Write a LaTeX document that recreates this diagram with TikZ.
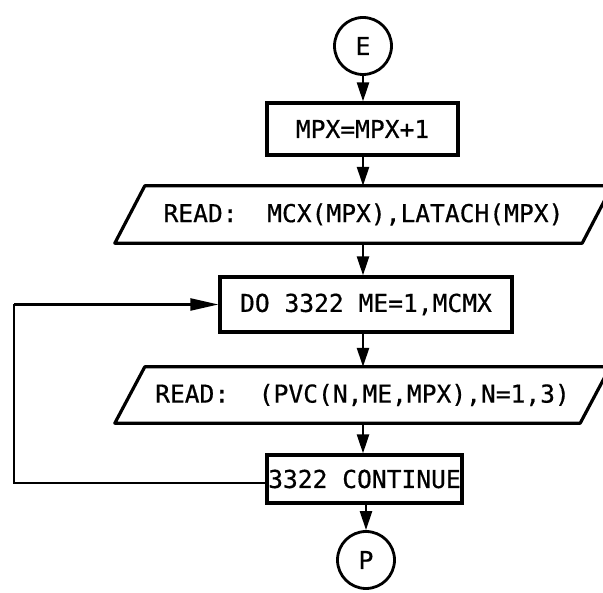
\documentclass[tikz,border=0pt]{standalone}
\usepackage{fontspec}
\newfontfamily\chartfont[FakeBold=0.6]{DejaVu Sans Mono}
\usetikzlibrary{arrows.meta}

\begin{document}
\begin{tikzpicture}[x=1pt,y=1pt,
  chartlabel/.style={font=\chartfont\fontsize{24.6}{28}\selectfont},
  procbox/.style={chartlabel,draw=black,line width=3.2pt,inner sep=1pt},
  iotext/.style={chartlabel,inner sep=0pt},
  iobox/.style={draw=black,line width=3.2pt,line join=round},
  conncirc/.style={chartlabel,circle,draw=black,line width=2.8pt,minimum size=57pt,inner sep=0pt},
  arr/.style={draw=black,line width=2.5pt,-{Triangle[length=19pt,width=12pt]}},
  loopline/.style={draw=black,line width=2.3pt}]
\useasboundingbox (0,0) rectangle (603,593);
\coordinate (spine) at (363,0);
\coordinate (lpcorner) at (14,0);
\node[conncirc] (E) at (363,547) {E};
\node[procbox,minimum width=191pt,minimum height=52pt] (incr) at (362.5,464) {MPX=MPX+1};
\node[iotext,minimum width=467pt,minimum height=57pt] (rdone) at (363.5,378.5) {READ:\ \ MCX(MPX),LATACH(MPX)};
\draw[iobox] ([xshift=-15pt]rdone.south west) -- ([xshift=15pt]rdone.north west) -- ([xshift=15pt]rdone.north east) -- ([xshift=-15pt]rdone.south east) -- cycle;
\node[procbox,minimum width=292pt,minimum height=55pt] (doloop) at (366,288.5) {DO 3322 ME=1,MCMX};
\node[iotext,minimum width=465pt,minimum height=56pt] (rdtwo) at (362.5,198) {READ:\ \ (PVC(N,ME,MPX),N=1,3)};
\draw[iobox] ([xshift=-15pt]rdtwo.south west) -- ([xshift=15pt]rdtwo.north west) -- ([xshift=15pt]rdtwo.north east) -- ([xshift=-15pt]rdtwo.south east) -- cycle;
\node[procbox,minimum width=195pt,minimum height=48pt] (cont) at (364.5,114) {3322 CONTINUE};
\node[conncirc] (P) at (366,33) {P};
\draw[arr] (spine |- E.south) -- (spine |- incr.north);
\draw[arr] (spine |- incr.south) -- (spine |- rdone.north);
\draw[arr] (spine |- rdone.south) -- (spine |- doloop.north);
\draw[arr] (spine |- doloop.south) -- (spine |- rdtwo.north);
\draw[arr] (spine |- rdtwo.south) -- (spine |- cont.north);
\draw[arr] (cont.south -| P.north) -- (P.north);
\draw[loopline] ([yshift=-4pt]cont.west) -- ([yshift=-4pt]cont.west -| lpcorner) -- (lpcorner |- doloop.west);
\draw[loopline,-{Triangle[length=28pt,width=12pt]}] (lpcorner |- doloop.west) -- (doloop.west);
\end{tikzpicture}
\end{document}
